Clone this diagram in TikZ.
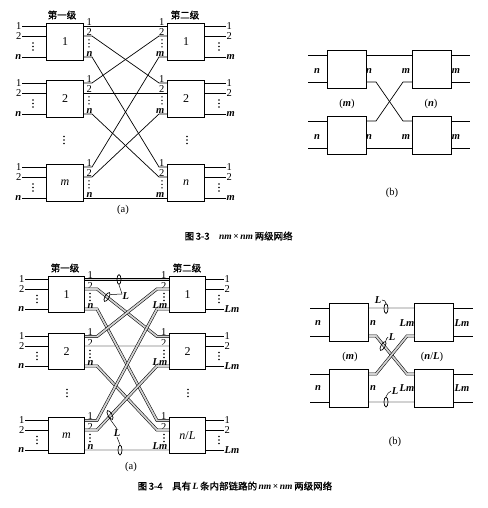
\documentclass[tikz,border=0pt]{standalone}
\usepackage{fontspec}
\setmainfont{Liberation Serif}
\newfontfamily\cjk{Noto Sans CJK SC}[AutoFakeBold=1.2]
\usetikzlibrary{calc,shapes.geometric}
\begin{document}
\begin{tikzpicture}[x=1pt,y=-1pt,
  every node/.style={inner sep=0.5pt, font=\fontsize{10.5}{10.5}\selectfont},
  box/.style={draw, line width=1pt, anchor=north west, minimum width=37pt, minimum height=37pt, inner sep=0, font=\fontsize{12}{12}\selectfont},
  ln/.style={line width=0.7pt},
  dbl/.style={line width=0.55pt, double=gray!35, double distance=1.8pt},
  zz/.style={to path={-- ++(#1,0) -- ($(\tikztotarget)+(-#1,0)$) -- (\tikztotarget)}},
  zz/.default=8,
  it/.style={font=\fontsize{10.5}{10.5}\selectfont\bfseries\itshape},
  cjkt/.style={font=\fontsize{9.5}{9.5}\selectfont\cjk\bfseries},
  ell/.style={draw, ellipse, line width=0.7pt, minimum width=4pt, minimum height=10pt, inner sep=0},
  vd/.pic={\foreach \t in {-3.5,0,3.5} \fill (0,\t) circle (0.8);},
]
\useasboundingbox (0,0) rectangle (487,508);

% ================= Fig 3-3 (a) =================
\node[box] (a1) at (46,23) {1};
\node[box] (a2) at (46,80) {2};
\node[box] (am) at (46,164) {\textit{m}};
\node[box] (b1) at (167,23) {1};
\node[box] (b2) at (167,80) {2};
\node[box] (bn) at (167,164) {\textit{n}};
\foreach \X in {a1,a2,am,b1,b2,bn}{
  \foreach \k/\dy in {1/3,2/13,3/34}{
    \coordinate (\X-w\k) at ($(\X.north west)+(0,\dy)$);
    \coordinate (\X-e\k) at ($(\X.north east)+(0,\dy)$);
  }}
\foreach \X in {a1,a2,am}{
  \foreach \k in {1,2,3}{
    \coordinate (\X-s\k) at ($(\X-w\k)+(-24,0)$);
    \draw[ln] (\X-s\k) -- (\X-w\k);
  }
  \node[anchor=east] (\X-l1) at (\X-s1) {1};
  \node[anchor=east] (\X-l2) at (\X-s2) {2};
  \node[anchor=east,it] (\X-l3) at (\X-s3) {n};
  \pic at ($(\X-s2)!0.5!(\X-s3)+(11,0)$) {vd};
  \node[anchor=south west] (\X-o1) at ($(\X-e1)+(2,0)$) {1};
  \node[anchor=south west] (\X-o2) at ($(\X-e2)+(2,0)$) {2};
  \node[anchor=south west,it] (\X-o3) at ($(\X-e3)+(2,0)$) {n};
  \pic at ($(\X-e2)!0.35!(\X-e3)+(5,0)$) {vd};
}
\foreach \X in {b1,b2,bn}{
  \foreach \k in {1,2,3}{
    \coordinate (\X-t\k) at ($(\X-e\k)+(21,0)$);
    \draw[ln] (\X-e\k) -- (\X-t\k);
  }
  \node[anchor=west] (\X-r1) at (\X-t1) {1};
  \node[anchor=west] (\X-r2) at (\X-t2) {2};
  \node[anchor=west,it] (\X-r3) at (\X-t3) {m};
  \pic at ($(\X-e2)!0.5!(\X-e3)+(14,0)$) {vd};
  \node[anchor=south east] (\X-i1) at ($(\X-w1)+(-2,0)$) {1};
  \node[anchor=south east] (\X-i2) at ($(\X-w2)+(-2,0)$) {2};
  \node[anchor=south east,it] (\X-i3) at ($(\X-w3)+(-2,0)$) {m};
  \pic at ($(\X-w2)!0.35!(\X-w3)+(-5,0)$) {vd};
}
\draw[ln] (a1-e1) -- (b1-w1);
\draw[ln] (a1-e2) to[zz] (b2-w1);
\draw[ln] (a1-e3) to[zz] (bn-w1);
\draw[ln] (a2-e1) to[zz] (b1-w2);
\draw[ln] (a2-e2) -- (b2-w2);
\draw[ln] (a2-e3) to[zz] (bn-w2);
\draw[ln] (am-e1) to[zz] (b1-w3);
\draw[ln] (am-e2) to[zz] (b2-w3);
\draw[ln] (am-e3) -- (bn-w3);
\node[cjkt] (ta1) at (62,15) {第一级};
\node[cjkt] (ta2) at (185,15) {第二级};
\pic at (64,140) {vd};
\pic at (187,140) {vd};
\node (capa) at (123,210) {(a)};

% ================= Fig 3-3 (b) =================
\foreach \X/\px/\py in {p1/327/50,p2/412/50,p3/327/116,p4/412/116}{
  \node[box, minimum width=39pt, minimum height=38pt] (\X) at (\px,\py) {};
  \coordinate (\X-w1) at ($(\X.north west)+(0,5)$);
  \coordinate (\X-w2) at ($(\X.north west)+(0,32)$);
  \coordinate (\X-e1) at ($(\X.north east)+(0,5)$);
  \coordinate (\X-e2) at ($(\X.north east)+(0,32)$);
}
\foreach \X in {p1,p3}{
  \coordinate (\X-s1) at ($(\X-w1)+(-19,0)$);
  \coordinate (\X-s2) at ($(\X-w2)+(-19,0)$);
  \draw[ln] (\X-s1) -- (\X-w1);
  \draw[ln] (\X-s2) -- (\X-w2);
}
\foreach \X in {p2,p4}{
  \coordinate (\X-t1) at ($(\X-e1)+(18,0)$);
  \coordinate (\X-t2) at ($(\X-e2)+(18,0)$);
  \draw[ln] (\X-e1) -- (\X-t1);
  \draw[ln] (\X-e2) -- (\X-t2);
}
\draw[ln] (p1-e1) -- (p2-w1);
\draw[ln] (p1-e2) to[zz=9] (p4-w1);
\draw[ln] (p3-e1) to[zz=9] (p2-w2);
\draw[ln] (p3-e2) -- (p4-w2);
\node[it] (pn1) at (317,71) {n};
\node[it] (pn2) at (369,71) {n};
\node[it] (pm1) at (406,71) {m};
\node[it] (pm2) at (456,71) {m};
\node[it] (pn3) at (317,137) {n};
\node[it] (pn4) at (369,137) {n};
\node[it] (pm3) at (406,137) {m};
\node[it] (pm4) at (456,137) {m};
\node (pgm) at (347,104) {(\textit{\textbf{m}})};
\node (pgn) at (431,104) {(\textit{\textbf{n}})};
\node (capb) at (392,193) {(b)};

\node[cjkt, anchor=west] (cap33) at (184,236) {图\,3-3\quad{\rmfamily\itshape nm}\,{\rmfamily ×}\,{\rmfamily\itshape nm}\,两级网络};

% ================= Fig 3-4 (a) =================
\foreach \X/\px/\py/\lab in {c1/48/276/1,c2/48/333/2,cm/48/417/{\textit{m}},d1/169/276/1,d2/169/333/2,dn/169/417/{\textit{n}/\textit{L}}}{
  \node[box, minimum width=36pt, minimum height=36pt] (\X) at (\px,\py) {\lab};
  \foreach \k/\dy in {1/3.5,2/13,3/33}{
    \coordinate (\X-w\k) at ($(\X.north west)+(0,\dy)$);
    \coordinate (\X-e\k) at ($(\X.north east)+(0,\dy)$);
  }}
\foreach \X in {c1,c2,cm}{
  \foreach \k in {1,2,3}{
    \coordinate (\X-s\k) at ($(\X-w\k)+(-23,0)$);
    \draw[ln] (\X-s\k) -- (\X-w\k);
  }
  \node[anchor=east] (\X-l1) at (\X-s1) {1};
  \node[anchor=east] (\X-l2) at (\X-s2) {2};
  \node[anchor=east,it] (\X-l3) at (\X-s3) {n};
  \pic at ($(\X-s2)!0.5!(\X-s3)+(12,0)$) {vd};
  \node[anchor=south west] (\X-o1) at ($(\X-e1)+(2,0)$) {1};
  \node[anchor=south west] (\X-o2) at ($(\X-e2)+(2,1)$) {2};
  \node[anchor=south west,it] (\X-o3) at ($(\X-e3)+(2,0)$) {n};
  \pic at ($(\X-e2)!0.4!(\X-e3)+(5,0)$) {vd};
}
\foreach \X in {d1,d2,dn}{
  \foreach \k in {1,2,3}{
    \coordinate (\X-t\k) at ($(\X-e\k)+(18,0)$);
    \draw[ln] (\X-e\k) -- (\X-t\k);
  }
  \node[anchor=west] (\X-r1) at (\X-t1) {1};
  \node[anchor=west] (\X-r2) at (\X-t2) {2};
  \node[anchor=west,it] (\X-r3) at (\X-t3) {Lm};
  \pic at ($(\X-e2)!0.5!(\X-e3)+(13,0)$) {vd};
  \node[anchor=south east] (\X-i1) at ($(\X-w1)+(-2,0)$) {1};
  \node[anchor=south east] (\X-i2) at ($(\X-w2)+(-2,1)$) {2};
  \node[anchor=south east,it] (\X-i3) at ($(\X-w3)+(-1,0)$) {Lm};
  \pic at ($(\X-w2)!0.4!(\X-w3)+(-5,0)$) {vd};
}
\draw[dbl] (c1-e1) -- (d1-w1);
\draw[dbl] (c2-e2) -- (d2-w2);
\draw[dbl] (cm-e3) -- (dn-w3);
\draw[dbl] (c1-e2) to[zz=12] (d2-w1);
\draw[dbl] (c1-e3) to[zz=12] (dn-w1);
\draw[dbl] (c2-e1) to[zz=12] (d1-w2);
\draw[dbl] (c2-e3) to[zz=12] (dn-w2);
\draw[dbl] (cm-e1) to[zz=12] (d1-w3);
\draw[dbl] (cm-e2) to[zz=12] (d2-w3);
\node[cjkt] (tc1) at (65,268) {第一级};
\node[cjkt] (tc2) at (187,268) {第二级};
\pic at (67,393) {vd};
\pic at (188,393) {vd};
\node (capc) at (131,467) {(a)};
% L markers
\node[ell] (e1) at (119,279.5) {};
\node[ell, rotate=-30] (e2) at (107,297) {};
\coordinate (j1) at (122,294);
\draw[line width=0.5pt] (e1.south) -- (j1);
\draw[line width=0.5pt] (e2.north east) -- (j1);
\node[it, anchor=north west] (L1) at (122,292) {L};
\node[ell, rotate=30] (e3) at (110,415) {};
\node[ell] (e4) at (120,450) {};
\node[it] (L2) at (117,433) {L};
\draw[line width=0.5pt] (e3.west) -- (L2.north);
\draw[line width=0.5pt] (L2.south) -- (e4.north);

% ================= Fig 3-4 (b) =================
\foreach \X/\px/\py in {q1/329/303,q2/414/303,q3/329/369,q4/414/369}{
  \node[box, minimum width=39pt, minimum height=38pt] (\X) at (\px,\py) {};
  \coordinate (\X-w1) at ($(\X.north west)+(0,5)$);
  \coordinate (\X-w2) at ($(\X.north west)+(0,33)$);
  \coordinate (\X-e1) at ($(\X.north east)+(0,5)$);
  \coordinate (\X-e2) at ($(\X.north east)+(0,33)$);
}
\foreach \X in {q1,q3}{
  \coordinate (\X-s1) at ($(\X-w1)+(-19,0)$);
  \coordinate (\X-s2) at ($(\X-w2)+(-19,0)$);
  \draw[ln] (\X-s1) -- (\X-w1);
  \draw[ln] (\X-s2) -- (\X-w2);
}
\foreach \X in {q2,q4}{
  \coordinate (\X-t1) at ($(\X-e1)+(19,0)$);
  \coordinate (\X-t2) at ($(\X-e2)+(19,0)$);
  \draw[ln] (\X-e1) -- (\X-t1);
  \draw[ln] (\X-e2) -- (\X-t2);
}
\draw[dbl] (q1-e1) -- (q2-w1);
\draw[dbl] (q1-e2) to[zz=7] (q4-w1);
\draw[dbl] (q3-e1) to[zz=7] (q2-w2);
\draw[dbl] (q3-e2) -- (q4-w2);
\node[it] (qn1) at (318,323) {n};
\node[it] (qn2) at (373,323) {n};
\node[it] (qm1) at (407,323) {Lm};
\node[it] (qm2) at (462,323) {Lm};
\node[it] (qn3) at (318,388) {n};
\node[it] (qn4) at (373,388) {n};
\node[it] (qm3) at (407,388) {Lm};
\node[it] (qm4) at (462,388) {Lm};
\node (qgm) at (350,357) {(\textit{\textbf{m}})};
\node (qgn) at (432,357) {(\textit{\textbf{n}}/\textit{\textbf{L}})};
\node (capd) at (395,442) {(b)};
\node[ell] (f1) at (386,308.5) {};
\node[ell, rotate=-30] (f2) at (383,346) {};
\node[ell] (f3) at (386,402) {};
\node[it] (g1) at (378,300) {L};
\node[it] (g2) at (392,337) {L};
\node[it] (g3) at (395,391) {L};
\draw[line width=0.5pt] (g1.east) to[out=0,in=90] (f1.north);
\draw[line width=0.5pt] (g2.west) to[out=200,in=60] (f2.north);
\draw[line width=0.5pt] (g3.west) to[out=200,in=60] (f3.north);

\node[cjkt, anchor=west] (cap34) at (137,486) {图\,3-4\quad 具有\,{\rmfamily\itshape L}\,条内部链路的\,{\rmfamily\itshape nm}\,{\rmfamily ×}\,{\rmfamily\itshape nm}\,两级网络};
\end{tikzpicture}
\end{document}
